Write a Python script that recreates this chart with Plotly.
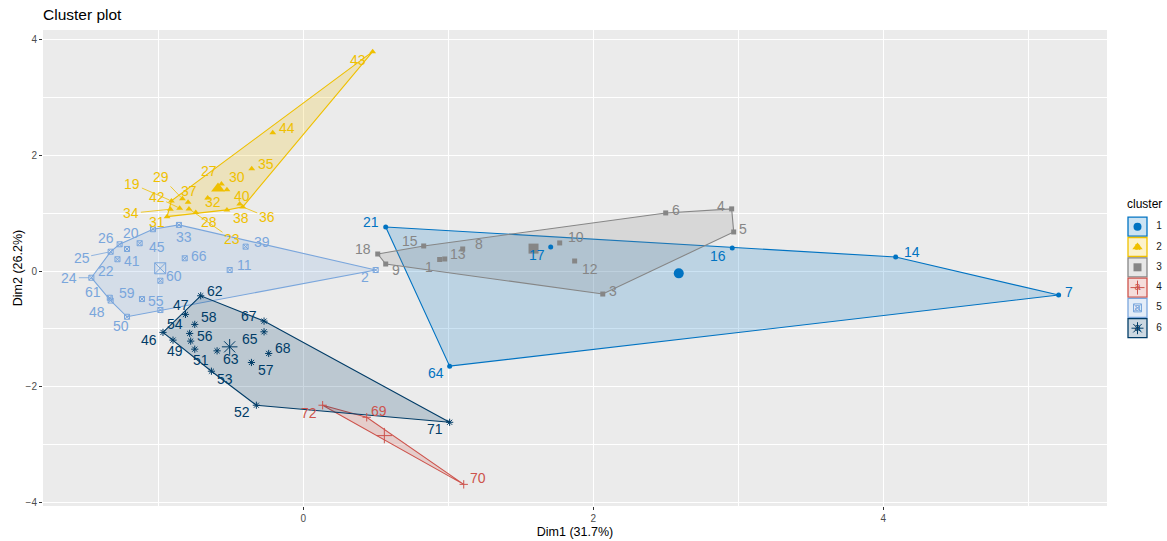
import plotly.graph_objects as go

# ---------------- data ----------------
cluster_names = ["1", "2", "3", "4", "5", "6"]
cluster_colors = ["#0073C2", "#EFC000", "#868686", "#CD534C", "#7AA6DC", "#003C67"]

c1_labels = ["7", "14", "16", "17", "21", "64"]
c1_x = [5.21, 4.086, 2.959, 1.707, 0.569, 1.010]
c1_y = [-0.416, 0.242, 0.398, 0.416, 0.762, -1.645]

c2_labels = ["19", "23", "27", "28", "29", "30", "31", "32", "34", "35", "36", "37", "38", "40", "42", "43", "44"]
c2_x = [-0.909, -0.788, -0.564, -0.741, -0.833, -0.526, -0.939, -0.659, -0.916, -0.355, -0.417, -0.794, -0.526, -0.438, -0.852, 0.479, -0.210]
c2_y = [1.212, 1.074, 1.506, 1.010, 1.247, 1.403, 0.940, 1.264, 1.068, 1.766, 1.108, 1.190, 1.056, 1.160, 1.086, 3.792, 2.390]

c3_labels = ["1", "3", "4", "5", "6", "8", "9", "10", "12", "13", "15", "18"]
c3_x = [0.941, 2.066, 2.955, 2.969, 2.500, 1.100, 0.569, 1.769, 1.872, 0.976, 0.831, 0.514]
c3_y = [0.199, -0.398, 1.074, 0.675, 1.004, 0.381, 0.121, 0.485, 0.173, 0.208, 0.433, 0.294]

c4_labels = ["69", "70", "72"]
c4_x = [0.438, 1.107, 0.134]
c4_y = [-2.528, -3.688, -2.320]

c5_labels = ["2", "11", "20", "22", "24", "25", "26", "33", "39", "41", "45", "48", "50", "55", "59", "60", "61", "66"]
c5_x = [0.500, -0.507, -1.036, -1.281, -1.461, -1.328, -1.266, -0.857, -0.397, -1.215, -1.128, -1.328, -1.215, -0.985, -1.112, -0.985, -1.334, -0.817]
c5_y = [0.017, 0.017, 0.722, 0.203, -0.116, 0.334, 0.462, 0.797, 0.421, 0.381, 0.480, -0.511, -0.791, -0.675, -0.485, -0.168, -0.462, 0.220]

c6_labels = ["46", "47", "49", "51", "52", "53", "54", "56", "57", "58", "62", "63", "65", "67", "68", "71"]
c6_x = [-0.967, -0.812, -0.898, -0.748, -0.323, -0.633, -0.783, -0.776, -0.357, -0.748, -0.707, -0.594, -0.270, -0.270, -0.238, 1.010]
c6_y = [-1.061, -0.750, -1.195, -1.351, -2.320, -1.732, -1.079, -1.212, -1.581, -0.923, -0.428, -1.380, -1.051, -0.866, -1.425, -2.615]

x_title = "Dim1 (31.7%)"
y_title = "Dim2 (26.2%)"
plot_title = "Cluster plot"
legend_title = "cluster"

# ---------------- styling ----------------
symbols = ["circle", "triangle-up", "square", "cross-thin-open", "square-x-open", "asterisk-open"]
pt_sizes = [5, 6, 5, 6, 5, 6]
ctr_sizes = [10, 12, 10, 11, 11, 13]
leg_sizes = [8, 9, 8, 10, 8, 10]

# label offsets in screen pixels (dx right, dy down), leader segment flag
label_offsets = {
    "21": (-15, -5), "17": (-14, 8), "16": (-14, 8), "14": (16, -5), "7": (10, -3), "64": (-14, 7),
    "43": (-15, 8), "44": (14, -5), "35": (14, -5), "30": (10, -13), "27": (-12, -13), "40": (2, -8),
    "36": (24, 10), "38": (14, 8), "32": (5, 4), "29": (-21, -22), "37": (1, -11), "19": (-39, -17),
    "42": (-23, -11), "34": (-39, 4), "31": (-10, 5), "28": (13, 9), "23": (43, 30),
    "1": (-11, 7), "3": (10, -3), "4": (-11, -3), "5": (9, -3), "6": (10, -3), "8": (16, -5),
    "9": (10, 6), "10": (16, -6), "12": (15, 8), "13": (13, -5), "15": (-14, -5), "18": (-15, -5),
    "69": (12, -6), "70": (14, -6), "72": (-14, 8),
    "2": (-11, 7), "11": (15, -5), "20": (-22, 4), "22": (-11, 12), "24": (-22, 0), "25": (-29, 6),
    "26": (-14, -6), "33": (5, 12), "39": (16, -5), "41": (5, 12), "45": (17, 4), "48": (-14, 11),
    "50": (-6, 9), "55": (-4, -9), "59": (-15, -6), "60": (14, -5), "61": (-17, -6), "66": (14, -2),
    "46": (-14, 8), "47": (-4, -9), "49": (2, 11), "51": (6, 11), "52": (-14, 7), "53": (14, 8),
    "54": (-15, -9), "56": (14, -5), "57": (15, 8), "58": (14, -7), "62": (14, -5), "63": (14, 8),
    "65": (-14, 7), "67": (-15, -5), "68": (14, -5), "71": (-15, 7),
}
leaders = {"36", "29", "19", "42", "34", "23", "24", "25"}

FONT = "Liberation Sans, Arial, sans-serif"
W, H = 1167, 541
ML, MR, MT, MB = 43, 5, 30, 35
PANEL_RIGHT = 1107
LABEL_SIZE = 14


def rgba(hex_color, a):
    h = hex_color.lstrip("#")
    r, g, b = int(h[0:2], 16), int(h[2:4], 16), int(h[4:6], 16)
    return f"rgba({r},{g},{b},{a})"


def convex_hull(xs, ys):
    pts = sorted(set(zip(xs, ys)))
    if len(pts) <= 2:
        return pts

    def cross(o, a, b):
        return (a[0] - o[0]) * (b[1] - o[1]) - (a[1] - o[1]) * (b[0] - o[0])

    lower = []
    for p in pts:
        while len(lower) >= 2 and cross(lower[-2], lower[-1], p) <= 0:
            lower.pop()
        lower.append(p)
    upper = []
    for p in reversed(pts):
        while len(upper) >= 2 and cross(upper[-2], upper[-1], p) <= 0:
            upper.pop()
        upper.append(p)
    return lower[:-1] + upper[:-1]


clusters = [
    (c1_labels, c1_x, c1_y),
    (c2_labels, c2_x, c2_y),
    (c3_labels, c3_x, c3_y),
    (c4_labels, c4_x, c4_y),
    (c5_labels, c5_x, c5_y),
    (c6_labels, c6_x, c6_y),
]

fig = go.Figure()

# hull polygons
for k, (labs, xs, ys) in enumerate(clusters):
    hull = convex_hull(xs, ys)
    hx = [p[0] for p in hull] + [hull[0][0]]
    hy = [p[1] for p in hull] + [hull[0][1]]
    fig.add_trace(go.Scatter(
        x=hx, y=hy, mode="lines", fill="toself",
        fillcolor=rgba(cluster_colors[k], 0.2),
        line=dict(color=cluster_colors[k], width=1.1),
        hoverinfo="skip", showlegend=False,
    ))

# points and centroids
for k, (labs, xs, ys) in enumerate(clusters):
    col = cluster_colors[k]
    open_sym = symbols[k].endswith("-open")
    fig.add_trace(go.Scatter(
        x=xs, y=ys, mode="markers", text=labs,
        marker=dict(symbol=symbols[k], size=pt_sizes[k], color=col,
                    line=dict(color=col, width=1 if open_sym else 0)),
        showlegend=False,
    ))
    cx = [sum(xs) / len(xs)]
    cy = [sum(ys) / len(ys)]
    fig.add_trace(go.Scatter(
        x=cx, y=cy, mode="markers",
        marker=dict(symbol=symbols[k], size=ctr_sizes[k], color=col,
                    line=dict(color=col, width=1 if open_sym else 0)),
        showlegend=False, hoverinfo="skip",
    ))

# point labels
annotations = []
for k, (labs, xs, ys) in enumerate(clusters):
    col = cluster_colors[k]
    for lab, x, y in zip(labs, xs, ys):
        dx, dy = label_offsets.get(lab, (12, -5))
        if lab in leaders:
            annotations.append(dict(
                x=x, y=y, xref="x", yref="y", text=lab, showarrow=True,
                ax=dx, ay=dy, arrowhead=0, arrowwidth=0.8, arrowcolor=col,
                standoff=2, font=dict(family=FONT, size=LABEL_SIZE, color=col),
            ))
        else:
            annotations.append(dict(
                x=x, y=y, xref="x", yref="y", text=lab, showarrow=False,
                xshift=dx, yshift=-dy, xanchor="center", yanchor="middle",
                font=dict(family=FONT, size=LABEL_SIZE, color=col),
            ))

# ---------------- hand-built ggplot-like legend on an overlay axis ----------------
row_y = [-(226.7 + 20.3 * i) for i in range(len(cluster_names))]
fig.add_trace(go.Scatter(
    x=[0] * len(cluster_names), y=row_y, mode="markers", xaxis="x2", yaxis="y2",
    marker=dict(symbol="square", size=19,
                color=[rgba(c, 0.2) for c in cluster_colors],
                line=dict(color=cluster_colors, width=1.3)),
    showlegend=False, hoverinfo="skip", cliponaxis=False,
))
fig.add_trace(go.Scatter(
    x=[0] * len(cluster_names), y=row_y, mode="text", xaxis="x2", yaxis="y2",
    text=["a"] * len(cluster_names),
    textfont=dict(family=FONT, size=11, color=cluster_colors),
    showlegend=False, hoverinfo="skip", cliponaxis=False,
))
for k in range(len(cluster_names)):
    open_sym = symbols[k].endswith("-open")
    fig.add_trace(go.Scatter(
        x=[0], y=[row_y[k]], mode="markers", xaxis="x2", yaxis="y2",
        marker=dict(symbol=symbols[k], size=leg_sizes[k], color=cluster_colors[k],
                    line=dict(color=cluster_colors[k], width=1 if open_sym else 0)),
        showlegend=False, hoverinfo="skip", cliponaxis=False,
    ))
fig.add_trace(go.Scatter(
    x=[21.5] * len(cluster_names), y=row_y, mode="text", xaxis="x2", yaxis="y2",
    text=cluster_names, textfont=dict(family=FONT, size=10, color="#1A1A1A"),
    showlegend=False, hoverinfo="skip", cliponaxis=False,
))
fig.add_trace(go.Scatter(
    x=[-10.5], y=[-205], mode="text", xaxis="x2", yaxis="y2",
    text=[legend_title], textposition="middle right",
    textfont=dict(family=FONT, size=12, color="#000000"),
    showlegend=False, hoverinfo="skip", cliponaxis=False,
))

# ---------------- axes ----------------
all_x = [v for _, xs, _ in clusters for v in xs]
all_y = [v for _, _, ys in clusters for v in ys]
xr = max(all_x) - min(all_x)
yr = max(all_y) - min(all_y)
x_range = [min(all_x) - 0.05 * xr, max(all_x) + 0.05 * xr]
y_range = [min(all_y) - 0.05 * yr, max(all_y) + 0.05 * yr]

paper_w = W - ML - MR
paper_h = H - MT - MB
main_dom = [0, (PANEL_RIGHT - ML) / paper_w]
leg_dom_x = [(1126 - ML) / paper_w, 1.0]
leg_dom_y = [(H - MB - 340) / paper_h, (H - MB - 190) / paper_h]

axis_common = dict(
    showgrid=True, gridcolor="#FFFFFF", gridwidth=1.3, zeroline=False,
    ticks="outside", ticklen=3, tickwidth=1, tickcolor="#333333",
    tickfont=dict(family=FONT, size=10, color="#4D4D4D"),
    showline=False, dtick=2, tick0=0,
    minor=dict(dtick=1, tick0=0, showgrid=True, gridcolor="#FFFFFF", gridwidth=0.6, ticks=""),
)

fig.update_layout(
    width=W, height=H,
    margin=dict(l=ML, r=MR, t=MT, b=MB),
    paper_bgcolor="#FFFFFF", plot_bgcolor="rgba(0,0,0,0)",
    font=dict(family=FONT),
    showlegend=False,
    title=dict(text=plot_title, x=ML / W, xanchor="left", y=1 - 15 / H, yanchor="middle",
               font=dict(family=FONT, size=15.5, color="#000000")),
    xaxis=dict(range=x_range, domain=main_dom,
               title=dict(text=x_title, standoff=4, font=dict(family=FONT, size=12.5, color="#000000")),
               **axis_common),
    yaxis=dict(range=y_range,
               title=dict(text=y_title, standoff=0, font=dict(family=FONT, size=12.5, color="#000000")),
               **axis_common),
    xaxis2=dict(domain=leg_dom_x, range=[-11.5, 24.5], anchor="y2", visible=False),
    yaxis2=dict(domain=leg_dom_y, range=[-340, -190], anchor="x2", visible=False),
    annotations=annotations,
    shapes=[dict(type="rect", xref="x domain", yref="y domain", x0=0, x1=1, y0=0, y1=1,
                 fillcolor="#EBEBEB", line=dict(width=0), layer="below")],
)

fig.write_html("out.html", config={"displayModeBar": False},
               post_script="document.body.style.margin='0';")
